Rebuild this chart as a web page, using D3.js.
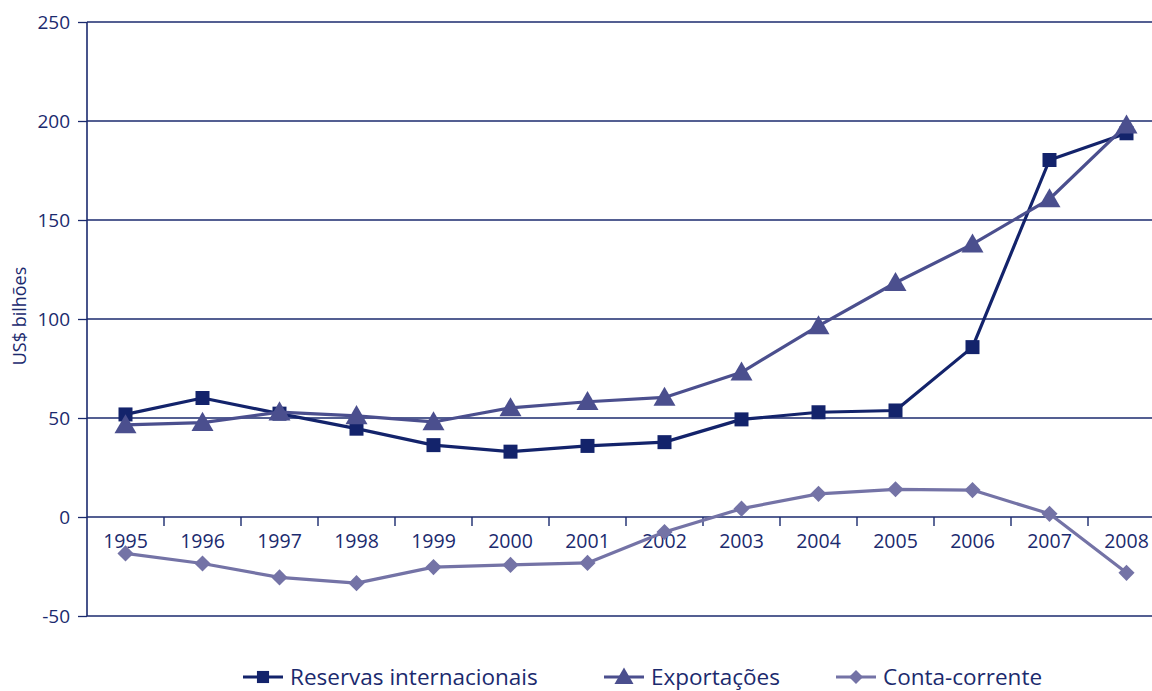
<!DOCTYPE html>
<html><head><meta charset="utf-8">
<script src="https://cdn.jsdelivr.net/npm/d3@7"></script>
<style>body{margin:0;background:#fff;}svg{display:block;font-family:"Open Sans",sans-serif;}</style>
</head><body><svg id="c" width="1152" height="691"></svg>
<script>
const years = ["1995","1996","1997","1998","1999","2000","2001","2002","2003","2004","2005","2006","2007","2008"];
const reservas = [51.8, 60.1, 52.2, 44.6, 36.3, 33.0, 35.9, 37.8, 49.3, 52.9, 53.8, 85.8, 180.3, 193.8];
const exportacoes = [46.5, 47.7, 53.0, 51.1, 48.0, 55.1, 58.2, 60.4, 73.1, 96.5, 118.3, 137.8, 160.6, 197.9];
const contaCorrente = [-18.4, -23.5, -30.5, -33.4, -25.3, -24.2, -23.2, -7.6, 4.2, 11.7, 14.0, 13.6, 1.6, -28.2];
const yTicks = [-50, 0, 50, 100, 150, 200, 250];
const seriesNames = ["Reservas internacionais", "Exportações", "Conta-corrente"];

const axisColor = "#1b2a6e";
const colors = ["#13236b", "#4b4f8e", "#7473a6"];

// square-ish diamond (rotated square)
const rhombus = { draw(ctx, size) { const r = Math.sqrt(size / 2); ctx.moveTo(0, -r); ctx.lineTo(r, 0); ctx.lineTo(0, r); ctx.lineTo(-r, 0); ctx.closePath(); } };
const shapes = [d3.symbolSquare, d3.symbolTriangle, rhombus];
const sizes = [196, 210, 130];

const svg = d3.select("#c");
const x = d3.scaleBand().domain(years).range([87, 87 + 77 * 14]);
const y = d3.scaleLinear().domain([-50, 250]).range([616, 22]);

// gridlines
svg.append("g").selectAll("line").data(yTicks.filter(v => v !== 0)).join("line")
  .attr("x1", 87).attr("x2", 1152).attr("y1", d => y(d)).attr("y2", d => y(d))
  .attr("stroke", axisColor).attr("stroke-width", 1.3);

// y axis
const ya = svg.append("g").attr("transform", "translate(87,0)")
  .call(d3.axisLeft(y).tickValues(yTicks).tickSize(9).tickPadding(8).tickFormat(d => String(d)));
ya.select(".domain").attr("stroke", axisColor).attr("stroke-width", 1.6).attr("d", `M0,${y(250)}V${y(-50)}`);
ya.selectAll(".tick line").attr("stroke", axisColor).attr("stroke-width", 1.3);
ya.selectAll(".tick text").attr("fill", axisColor).style("font-size", "19px").style("font-family", "Open Sans");

// x axis at zero
const xa = svg.append("g").attr("transform", `translate(0,${y(0)})`);
xa.append("line").attr("x1", 87).attr("x2", 1152).attr("stroke", axisColor).attr("stroke-width", 1.4);
xa.selectAll("line.tk").data(years.slice(1)).join("line").attr("class", "tk")
  .attr("x1", d => x(d)).attr("x2", d => x(d)).attr("y1", 0).attr("y2", 9)
  .attr("stroke", axisColor).attr("stroke-width", 1.4);
xa.selectAll("text").data(years).join("text")
  .attr("x", d => x(d) + x.bandwidth() / 2).attr("y", 31)
  .attr("text-anchor", "middle").attr("fill", axisColor)
  .style("font-size", "19.5px").text(d => d);

// y title
svg.append("text").attr("transform", "translate(26,316) rotate(-90)")
  .attr("text-anchor", "middle").attr("fill", axisColor).style("font-size", "18px").text("US$ bilhões");

const allSeries = [reservas, exportacoes, contaCorrente];
const line = d3.line().x((d, i) => x(years[i]) + x.bandwidth() / 2).y(d => y(d));
allSeries.forEach((s, k) => {
  const g = svg.append("g");
  g.append("path").datum(s).attr("d", line).attr("fill", "none")
    .attr("stroke", colors[k]).attr("stroke-width", 3.2).attr("stroke-linejoin", "round");
  g.selectAll("path.m").data(s).join("path").attr("class", "m")
    .attr("transform", (d, i) => `translate(${x(years[i]) + x.bandwidth() / 2},${y(d) + (k === 1 ? 2 : 0)})`)
    .attr("d", d3.symbol().type(shapes[k]).size(sizes[k])).attr("fill", colors[k]);
});

// legend
const legX = [243, 604, 836];
const leg = svg.append("g");
seriesNames.forEach((n, k) => {
  const g = leg.append("g").attr("transform", `translate(${legX[k]},677)`);
  g.append("line").attr("x1", 0).attr("x2", 40).attr("stroke", colors[k]).attr("stroke-width", 3);
  g.append("path").attr("transform", `translate(20,${k === 1 ? 1.5 : 0})`)
    .attr("d", d3.symbol().type(shapes[k]).size(sizes[k] * 0.75)).attr("fill", colors[k]);
  g.append("text").attr("x", 47).attr("y", 8).attr("fill", axisColor)
    .style("font-size", "22.5px").text(n);
});
</script></body></html>
